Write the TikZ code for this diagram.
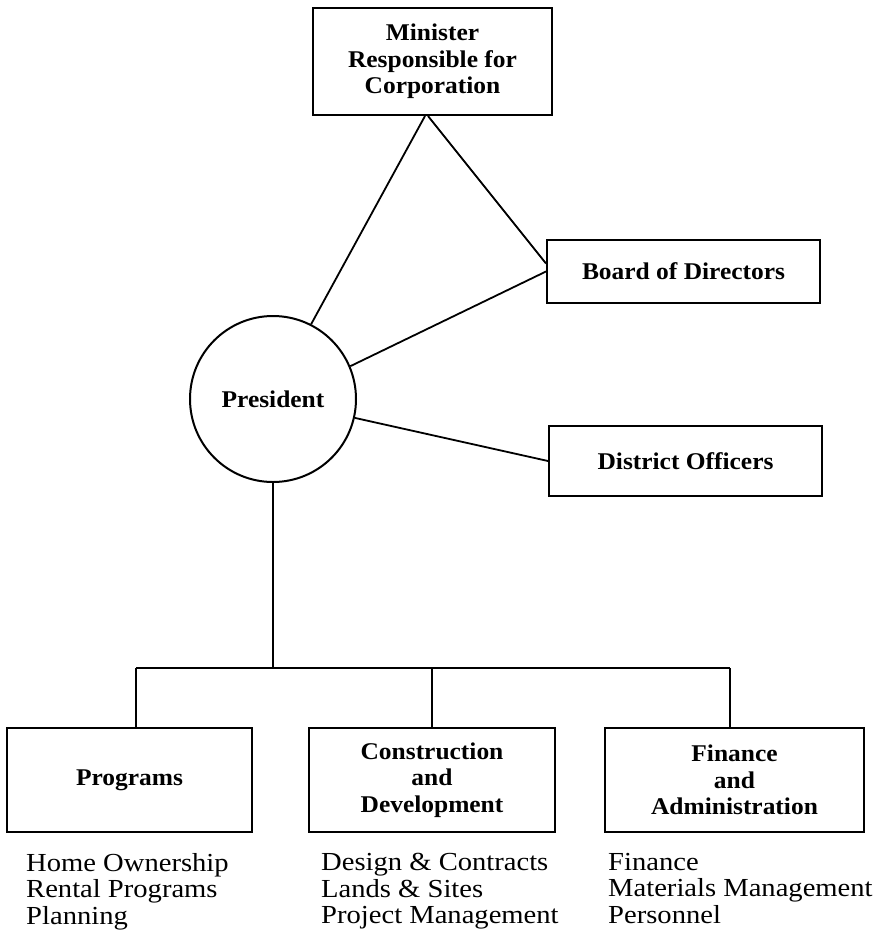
\documentclass[tikz,border=0pt]{standalone}
\usepackage{fontspec}
\setmainfont{Liberation Serif}
\newfontfamily\boxfont{Liberation Serif}[FakeStretch=1.06]
\newfontfamily\listfont{Liberation Serif}[FakeStretch=1.1]
\begin{document}
\begin{tikzpicture}[x=1pt,y=-1pt,
  box/.style={draw, line width=2pt, inner sep=0pt, align=center,
    font=\boxfont\fontsize{24}{26.5}\selectfont\bfseries},
  pres/.style={draw, circle, line width=2pt, inner sep=0pt, minimum size=166pt,
    font=\boxfont\fontsize{24}{26.5}\selectfont\bfseries},
  link/.style={line width=1.8pt},
  list/.style={anchor=north west, inner sep=0pt, align=left,
    font=\listfont\fontsize{26}{26.5}\selectfont}]
\useasboundingbox (0,0) rectangle (883,932);
\node[box, minimum width=239pt, minimum height=107pt] (min) at (432.5,61.5) {Minister\\Responsible for\\Corporation};
\node[box, minimum width=273pt, minimum height=63pt] (board) at (683.5,271.5) {Board of Directors};
\node[box, minimum width=273pt, minimum height=70pt] (dist) at (685.5,461) {District Officers};
\node[pres] (pres) at (273,399) {President};
\node[box, minimum width=245pt, minimum height=104pt] (prog) at (129.5,780) {Programs};
\node[box, minimum width=246pt, minimum height=104pt] (cons) at (432,780) {Construction\\and\\Development};
\node[box, minimum width=259pt, minimum height=104pt] (fin) at (734.5,780) {Finance\\and\\Administration};
\coordinate (busL) at (136,668);
\coordinate (busR) at (730,668);
\draw[link] ([xshift=-7.5pt]min.south) -- (pres.63);
\draw[link] ([xshift=-4.5pt]min.south) -- ([yshift=8pt]board.west);
\draw[link] (board.west) -- (pres.23);
\draw[link] (pres.-13) -- (dist.west);
\draw[link] (pres.south) -- (pres.south |- busL);
\draw[link] (busL) -- (busR);
\draw[link] (busL) -- (busL |- prog.north);
\draw[link] (cons.north) -- (cons.north |- busL);
\draw[link] (busR) -- (busR |- fin.north);
\node[list] (l1) at (26,853) {Home Ownership\\Rental Programs\\Planning};
\node[list] (l2) at (321,853) {Design \& Contracts\\Lands \& Sites\\Project Management};
\node[list] (l3) at (608,853) {Finance\\Materials Management\\Personnel};
\end{tikzpicture}
\end{document}
